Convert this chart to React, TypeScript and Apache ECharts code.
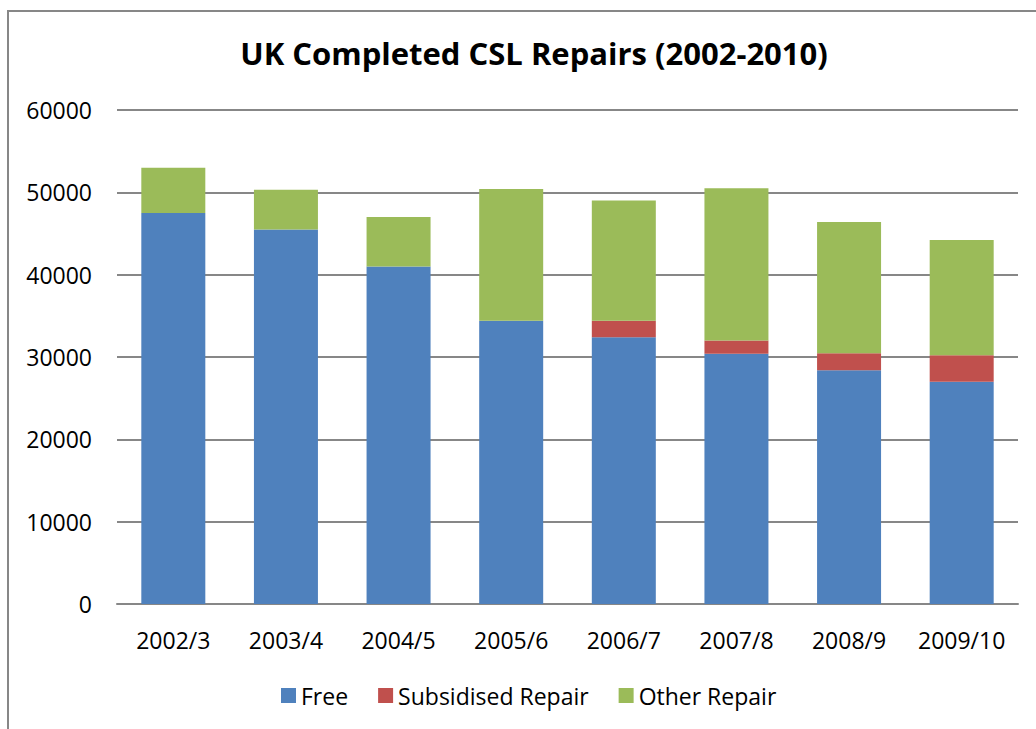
import React, { useEffect, useRef } from "react";
import * as echarts from "echarts";

const categories = ["2002/3", "2003/4", "2004/5", "2005/6", "2006/7", "2007/8", "2008/9", "2009/10"];
const freeValues = [47500, 45500, 41000, 34400, 32400, 30400, 28400, 27000];
const subsidisedValues = [0, 0, 0, 0, 2000, 1600, 2050, 3200];
const otherValues = [5500, 4800, 6000, 16000, 14600, 18500, 15950, 14000];
const seriesNames = ["Free", "Subsidised Repair", "Other Repair"];
const titleText = "UK Completed CSL Repairs (2002-2010)";

const FONT = "'Open Sans', 'Noto Sans', sans-serif";

export default function App() {
  const ref = useRef<HTMLDivElement>(null);
  useEffect(() => {
    if (!ref.current) return;
    const chart = echarts.init(ref.current, null, { renderer: "svg" });
    chart.setOption({
      animation: false,
      backgroundColor: "#ffffff",
      textStyle: { fontFamily: FONT },
      title: {
        text: titleText,
        left: 529,
        top: 32,
        textAlign: "center",
        textStyle: { fontFamily: FONT, fontWeight: "bold", fontSize: 31, color: "#000" },
      },
      graphic: [
        {
          type: "rect",
          shape: { x: 8, y: 11, width: 1100, height: 900 },
          style: { fill: "none", stroke: "#878787", lineWidth: 2 },
          silent: true,
          z: -1,
        },
      ],
      legend: {
        left: 276,
        top: 679,
        itemWidth: 15,
        itemHeight: 15,
        itemGap: 30,
        icon: "rect",
        textStyle: { fontFamily: FONT, fontSize: 23, color: "#000" },
        data: seriesNames,
      },
      grid: { left: 117, right: 18, top: 110, bottom: 125, containLabel: false },
      xAxis: {
        type: "category",
        data: categories,
        axisLine: { show: true, lineStyle: { color: "#878787", width: 2 } },
        axisTick: { show: false },
        axisLabel: { interval: 0, fontFamily: FONT, fontSize: 23, color: "#000", margin: 24 },
      },
      yAxis: {
        type: "value",
        min: 0,
        max: 60000,
        interval: 10000,
        axisLine: { show: false },
        axisTick: { show: false },
        splitLine: { lineStyle: { color: "#878787", width: 2 } },
        axisLabel: {
          fontFamily: FONT,
          fontSize: 23,
          color: "#000",
          margin: 25,
          formatter: (v: number) => String(v),
        },
      },
      series: [
        { name: seriesNames[0], type: "bar", stack: "t", data: freeValues, barWidth: 64, itemStyle: { color: "#4F81BD" } },
        { name: seriesNames[1], type: "bar", stack: "t", data: subsidisedValues, barWidth: 64, itemStyle: { color: "#C0504D" } },
        { name: seriesNames[2], type: "bar", stack: "t", data: otherValues, barWidth: 64, itemStyle: { color: "#9BBB59" } },
      ],
    });
    return () => chart.dispose();
  }, []);
  return (
    <div
      ref={ref}
      style={{ position: "absolute", left: 0, top: 0, width: 1036, height: 729 }}
    />
  );
}
